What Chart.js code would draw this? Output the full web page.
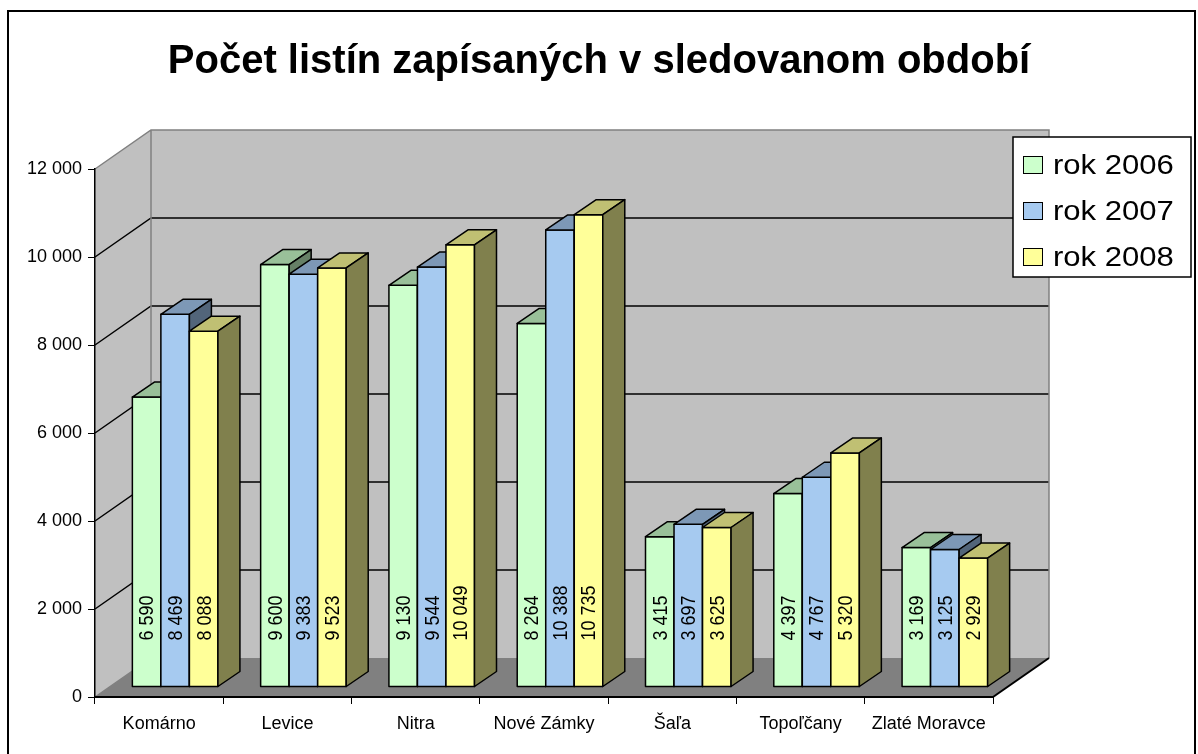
<!DOCTYPE html>
<html>
<head>
<meta charset="utf-8">
<script src="https://cdn.jsdelivr.net/npm/chart.js@4.4.1/dist/chart.umd.min.js"></script>
<style>
  html, body { margin: 0; padding: 0; background: #fff; }
  #wrap { width: 1198px; height: 754px; }
</style>
</head>
<body>
<div id="wrap"><canvas id="chart" width="1198" height="754"></canvas></div>
<script>
const categories = ['Komárno', 'Levice', 'Nitra', 'Nové Zámky', 'Šaľa', 'Topoľčany', 'Zlaté Moravce'];
const seriesNames = ['rok 2006', 'rok 2007', 'rok 2008'];
const values2006 = [6590, 9600, 9130, 8264, 3415, 4397, 3169];
const values2007 = [8469, 9383, 9544, 10388, 3697, 4767, 3125];
const values2008 = [8088, 9523, 10049, 10735, 3625, 5320, 2929];
const yTicks = [0, 2000, 4000, 6000, 8000, 10000, 12000];

const FONT = "'Liberation Sans', Arial, sans-serif";
const frontColors = ['#CCFFCC', '#A6CAF0', '#FFFF99'];
const topColors   = ['#99C099', '#7D98B6', '#C0C073'];
const sideColors  = ['#668066', '#52657A', '#80804D'];

// 3D hlbka (steny, stlpce)
const DX = 56, DY = -39;
const BX = 16, BY = -10;
const BDX = 22, BDY = -15;

function fmt(n) {
  return String(n).replace(/\B(?=(\d{3})+(?!\d))/g, ' ');
}

function poly(ctx, pts, fill, stroke) {
  ctx.beginPath();
  ctx.moveTo(pts[0][0], pts[0][1]);
  for (let i = 1; i < pts.length; i++) ctx.lineTo(pts[i][0], pts[i][1]);
  ctx.closePath();
  if (fill) { ctx.fillStyle = fill; ctx.fill(); }
  if (stroke) { ctx.strokeStyle = stroke; ctx.stroke(); }
}

const walls = {
  id: 'walls',
  beforeDraw(chart) {
    const { ctx, scales: { x, y } } = chart;
    const l = x.left, r = x.right;
    const b = y.getPixelForValue(yTicks[0]);
    const t = y.getPixelForValue(yTicks[yTicks.length - 1]);
    ctx.save();

    ctx.strokeStyle = '#000';
    ctx.lineWidth = 2;
    ctx.strokeRect(8, 11, 1187, 800);

    // zadna stena, lava stena, podlaha
    ctx.fillStyle = '#c0c0c0';
    ctx.fillRect(l + DX, t + DY, r - l, b - t);
    poly(ctx, [[l, t], [l + DX, t + DY], [l + DX, b + DY], [l, b]], '#c0c0c0');
    poly(ctx, [[l, b], [l + DX, b + DY], [r + DX, b + DY], [r, b]], '#808080');

    ctx.lineWidth = 1.5;
    ctx.strokeStyle = '#000';
    yTicks.slice(1, -1).forEach(v => {
      const py = y.getPixelForValue(v);
      ctx.beginPath();
      ctx.moveTo(l, py);
      ctx.lineTo(l + DX, py + DY);
      ctx.lineTo(r + DX, py + DY);
      ctx.stroke();
    });

    ctx.strokeStyle = '#808080';
    ctx.beginPath();
    ctx.moveTo(l, t);
    ctx.lineTo(l + DX, t + DY);
    ctx.lineTo(r + DX, t + DY);
    ctx.lineTo(r + DX, b + DY);
    ctx.moveTo(l + DX, t + DY);
    ctx.lineTo(l + DX, b + DY);
    ctx.lineTo(l, b);
    ctx.stroke();

    ctx.strokeStyle = '#000';
    ctx.lineWidth = 2;
    ctx.beginPath();
    ctx.moveTo(r, b);
    ctx.lineTo(r + DX, b + DY);
    ctx.stroke();
    ctx.restore();
  }
};

const bars3d = {
  id: 'bars3d',
  afterDatasetsDraw(chart) {
    const ctx = chart.ctx;
    ctx.save();
    ctx.lineWidth = 1.5;
    ctx.lineJoin = 'round';
    categories.forEach((c, i) => {
      chart.data.datasets.forEach((ds, d) => {
        const el = chart.getDatasetMeta(d).data[i];
        const x0 = el.x - el.width / 2 + BX;
        const x1 = el.x + el.width / 2 + BX;
        const yt = el.y + BY, yb = el.base + BY;
        poly(ctx, [[x0, yt], [x1, yt], [x1, yb], [x0, yb]], frontColors[d], '#000');
        poly(ctx, [[x0, yt], [x0 + BDX, yt + BDY], [x1 + BDX, yt + BDY], [x1, yt]], topColors[d], '#000');
        poly(ctx, [[x1, yt], [x1 + BDX, yt + BDY], [x1 + BDX, yb + BDY], [x1, yb]], sideColors[d], '#000');

        ctx.save();
        ctx.translate((x0 + x1) / 2, yb - 46);
        ctx.rotate(-Math.PI / 2);
        ctx.scale(1, 1.15);
        ctx.font = '18px ' + FONT;
        ctx.fillStyle = '#000';
        ctx.textAlign = 'left';
        ctx.textBaseline = 'middle';
        ctx.fillText(fmt(ds.data[i]), 0, 1);
        ctx.restore();
      });
    });
    ctx.restore();
  }
};

const legendBox = {
  id: 'legendBox',
  afterDraw(chart) {
    const ctx = chart.ctx;
    ctx.save();
    ctx.fillStyle = '#fff';
    ctx.fillRect(1013, 137, 178, 140);
    ctx.lineWidth = 1.5;
    ctx.strokeStyle = '#000';
    ctx.strokeRect(1013, 137, 178, 140);
    seriesNames.forEach((name, i) => {
      const cy = 165 + i * 46;
      ctx.fillStyle = frontColors[i];
      ctx.fillRect(1023, cy - 9, 20, 18);
      ctx.lineWidth = 1;
      ctx.strokeRect(1023.5, cy - 8.5, 19, 17);
      ctx.save();
      ctx.translate(1053, cy);
      ctx.scale(1.15, 1.03);
      ctx.font = '27px ' + FONT;
      ctx.fillStyle = '#000';
      ctx.textBaseline = 'middle';
      ctx.fillText(name, 0, 1);
      ctx.restore();
    });
    ctx.restore();
  }
};

const ctx = document.getElementById('chart').getContext('2d');
new Chart(ctx, {
  type: 'bar',
  data: {
    labels: categories,
    datasets: [
      { label: seriesNames[0], data: values2006 },
      { label: seriesNames[1], data: values2007 },
      { label: seriesNames[2], data: values2008 }
    ].map(ds => Object.assign(ds, {
      backgroundColor: 'rgba(0,0,0,0)',
      borderWidth: 0,
      categoryPercentage: 0.667,
      barPercentage: 1.0
    }))
  },
  options: {
    responsive: false,
    devicePixelRatio: 1,
    animation: false,
    events: [],
    layout: { padding: { top: 10, left: 0, right: 0, bottom: 14 } },
    plugins: {
      legend: { display: false },
      tooltip: { enabled: false },
      title: {
        display: true,
        text: 'Počet listín zapísaných v sledovanom období',
        color: '#000',
        font: { family: FONT, size: 40, weight: 'bold' },
        padding: { top: 28, bottom: 83 }
      }
    },
    scales: {
      x: {
        afterFit: s => { s.height = 43; },
        grid: { drawOnChartArea: false, color: '#000', tickLength: 7, offset: true },
        border: { color: '#000', width: 2 },
        ticks: { color: '#000', font: { family: FONT, size: 18 }, maxRotation: 0, autoSkip: false, padding: 9 }
      },
      y: {
        min: 0,
        max: 12000,
        afterFit: s => { s.width = 95; },
        afterBuildTicks: s => { s.ticks = yTicks.map(v => ({ value: v })); },
        grid: { drawOnChartArea: false, color: '#000', tickLength: 7 },
        border: { color: '#000', width: 1.5 },
        ticks: { color: '#000', font: { family: FONT, size: 18 }, padding: 6, callback: v => fmt(v) }
      },
      // volne miesto vpravo pre legendu
      yRight: {
        position: 'right',
        afterFit: s => { s.width = 205; },
        grid: { display: false },
        border: { display: false },
        ticks: { display: false }
      }
    }
  },
  plugins: [walls, bars3d, legendBox]
});
</script>
</body>
</html>
